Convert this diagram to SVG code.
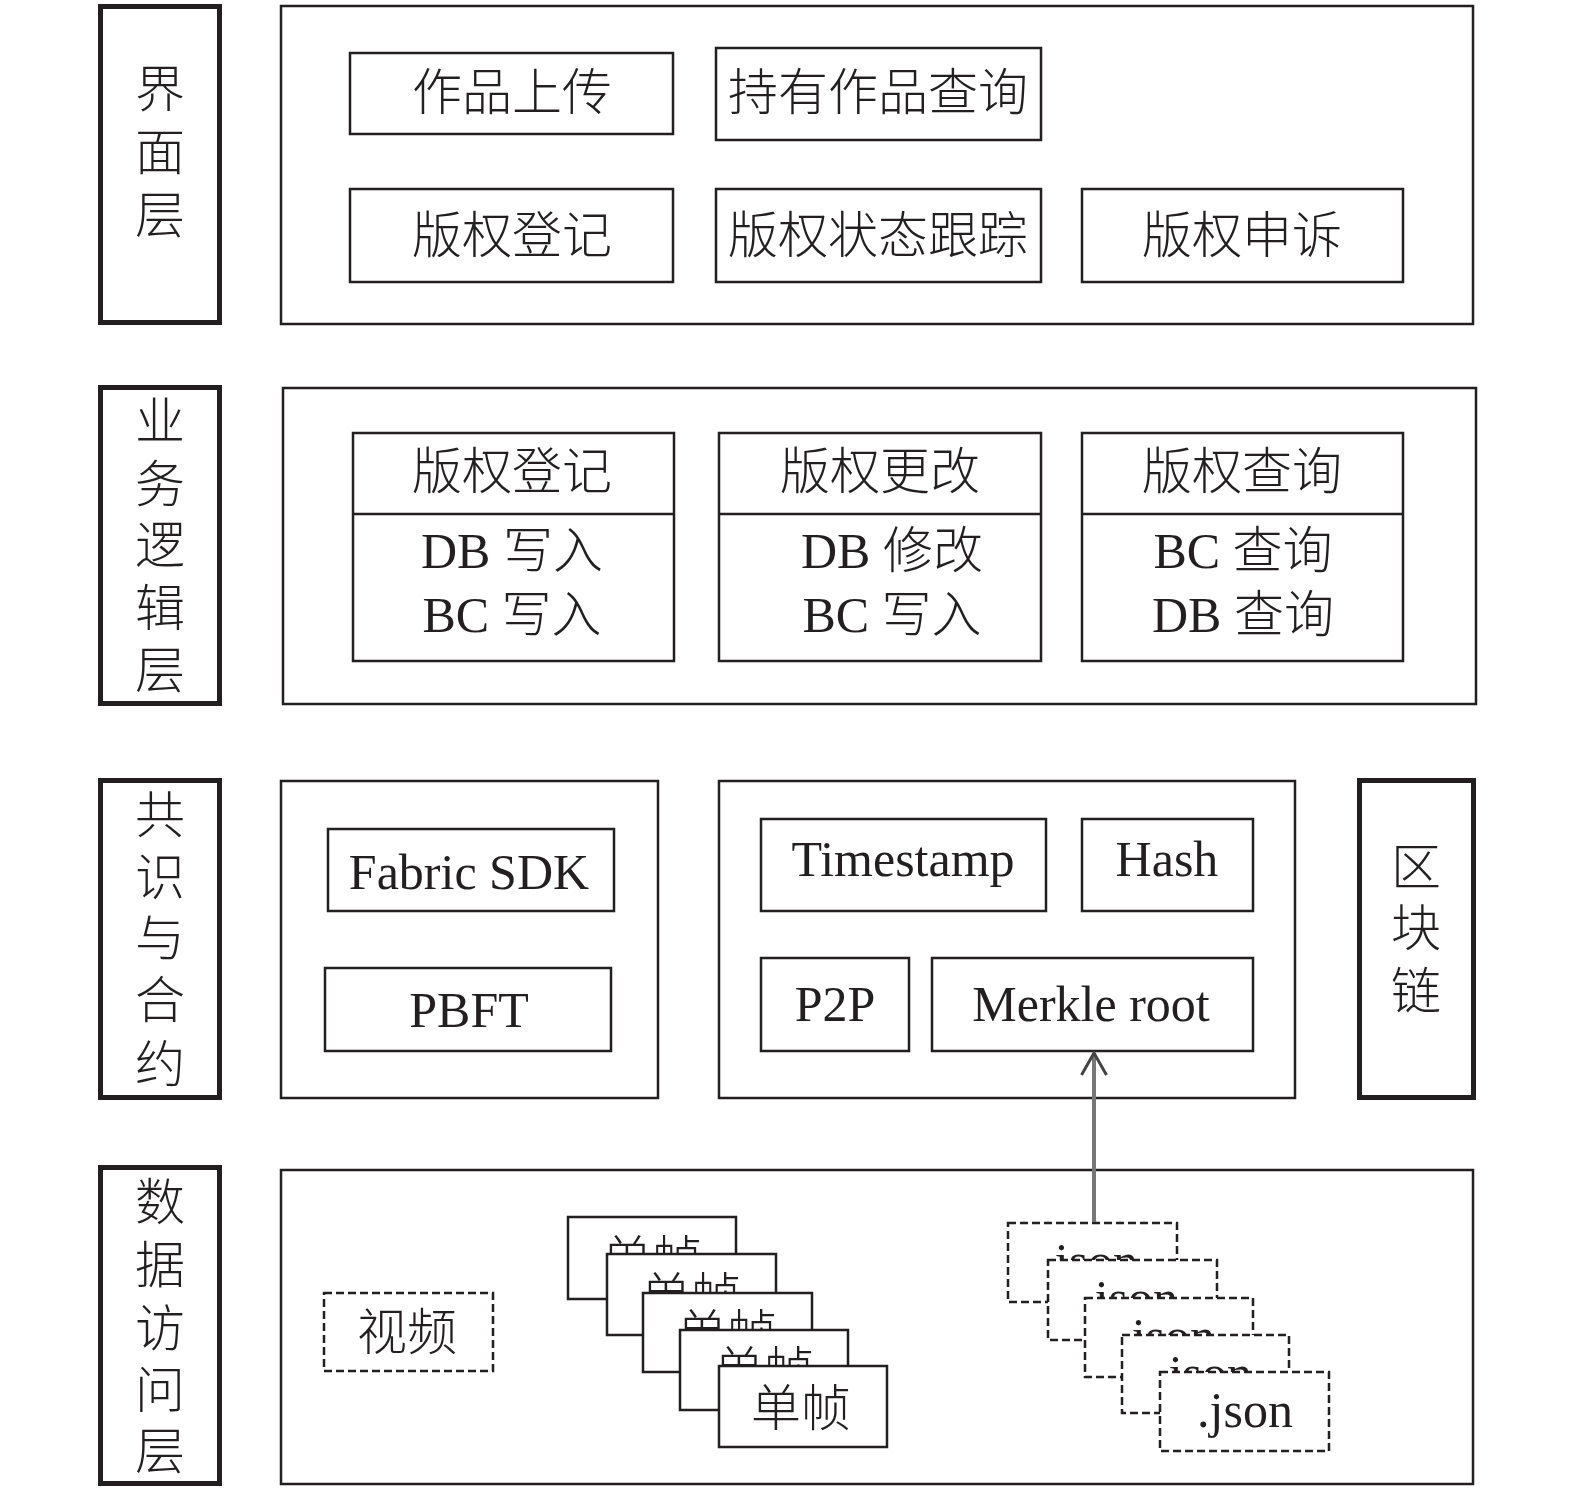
<svg xmlns="http://www.w3.org/2000/svg" width="1575" height="1494" viewBox="0 0 1575 1494">
<style>
.lbl{fill:#fff;stroke:#231f20;stroke-width:5}
.frame{fill:#fff;stroke:#231f20;stroke-width:2.5}
.box{fill:#fff;stroke:#231f20;stroke-width:2.5}
.dash{fill:#fff;stroke:#231f20;stroke-width:2.5;stroke-dasharray:8 4}
text{font-family:"Liberation Serif","Noto Sans CJK SC",serif;font-size:50px;fill:#231f20;text-anchor:middle}
.cjk{font-family:"Noto Sans CJK SC","Liberation Serif",serif;font-weight:300}
</style>
<defs>
<marker id="arr" markerWidth="28" markerHeight="30" refX="24" refY="14" orient="auto" markerUnits="userSpaceOnUse" viewBox="0 0 28 30">
<path d="M2,1.5 L24,14 L2,26.5" fill="none" stroke="#444" stroke-width="3"/>
</marker>
<clipPath id="cf1"><rect x="560" y="1210" width="190" height="44"/></clipPath>
<clipPath id="cf2"><rect x="600" y="1247" width="190" height="46"/></clipPath>
<clipPath id="cf3"><rect x="636" y="1286" width="190" height="44"/></clipPath>
<clipPath id="cf4"><rect x="673" y="1323" width="190" height="43"/></clipPath>
<clipPath id="cj1"><rect x="1000" y="1216" width="190" height="44"/></clipPath>
<clipPath id="cj2"><rect x="1040" y="1253" width="190" height="45"/></clipPath>
<clipPath id="cj3"><rect x="1078" y="1291" width="190" height="44"/></clipPath>
<clipPath id="cj4"><rect x="1115" y="1328" width="190" height="44"/></clipPath>
</defs>
<rect width="1575" height="1494" fill="#fff"/>

<!-- Layer 1 -->
<g id="label-ui"><rect class="lbl" x="100.5" y="6.5" width="119" height="316"/>
<text class="cjk" x="160" y="107">界</text><text class="cjk" x="160" y="170">面</text><text class="cjk" x="160" y="233">层</text></g>
<g id="layer-ui"><rect class="frame" x="281" y="6" width="1192" height="318"/></g>
<g id="n-upload"><rect class="box" x="350" y="53" width="323" height="81"/><text class="cjk" x="512" y="110">作品上传</text></g>
<g id="n-hold"><rect class="box" x="716" y="48" width="325" height="92"/><text class="cjk" x="878" y="110">持有作品查询</text></g>
<g id="n-reg1"><rect class="box" x="350" y="189" width="323" height="93"/><text class="cjk" x="512" y="253">版权登记</text></g>
<g id="n-track"><rect class="box" x="716" y="189" width="325" height="93"/><text class="cjk" x="878" y="253">版权状态跟踪</text></g>
<g id="n-appeal"><rect class="box" x="1082" y="189" width="321" height="93"/><text class="cjk" x="1242" y="253">版权申诉</text></g>

<!-- Layer 2 -->
<g id="label-biz"><rect class="lbl" x="100.5" y="387.5" width="119" height="316"/>
<text class="cjk" x="160" y="439">业</text><text class="cjk" x="160" y="502">务</text><text class="cjk" x="160" y="563">逻</text><text class="cjk" x="160" y="626">辑</text><text class="cjk" x="160" y="688">层</text></g>
<g id="layer-biz"><rect class="frame" x="283" y="388" width="1193" height="316"/></g>
<g id="n-reg2"><rect class="box" x="353" y="433" width="321" height="228"/><line x1="353" y1="514" x2="674" y2="514" stroke="#231f20" stroke-width="2.5"/>
<text class="cjk" x="512" y="489">版权登记</text><text x="512" y="568">DB <tspan class="cjk">写入</tspan></text><text x="512" y="632">BC <tspan class="cjk">写入</tspan></text></g>
<g id="n-mod"><rect class="box" x="719" y="433" width="322" height="228"/><line x1="719" y1="514" x2="1041" y2="514" stroke="#231f20" stroke-width="2.5"/>
<text class="cjk" x="880" y="489">版权更改</text><text x="892" y="568">DB <tspan class="cjk">修改</tspan></text><text x="892" y="632">BC <tspan class="cjk">写入</tspan></text></g>
<g id="n-query"><rect class="box" x="1082" y="433" width="321" height="228"/><line x1="1082" y1="514" x2="1403" y2="514" stroke="#231f20" stroke-width="2.5"/>
<text class="cjk" x="1242" y="489">版权查询</text><text x="1243" y="568">BC <tspan class="cjk">查询</tspan></text><text x="1243" y="632">DB <tspan class="cjk">查询</tspan></text></g>

<!-- Layer 3 -->
<g id="label-cons"><rect class="lbl" x="100.5" y="780.5" width="119" height="317"/>
<text class="cjk" x="160" y="833">共</text><text class="cjk" x="160" y="895">识</text><text class="cjk" x="160" y="956">与</text><text class="cjk" x="160" y="1018">合</text><text class="cjk" x="160" y="1082">约</text></g>
<g id="layer-cons"><rect class="frame" x="281" y="781" width="377" height="317"/></g>
<g id="n-sdk"><rect class="box" x="328" y="829" width="286" height="82"/><text x="469" y="889">Fabric SDK</text></g>
<g id="n-pbft"><rect class="box" x="325" y="968" width="286" height="83"/><text x="469" y="1027">PBFT</text></g>
<g id="layer-chain"><rect class="frame" x="719" y="781" width="576" height="317"/></g>
<g id="n-ts"><rect class="box" x="761" y="819" width="285" height="92"/><text x="903" y="876">Timestamp</text></g>
<g id="n-hash"><rect class="box" x="1082" y="819" width="171" height="92"/><text x="1167" y="876">Hash</text></g>
<g id="n-p2p"><rect class="box" x="761" y="958" width="148" height="93"/><text x="835" y="1021">P2P</text></g>
<g id="n-merkle"><rect class="box" x="932" y="958" width="321" height="93"/><text x="1091" y="1021">Merkle root</text></g>
<g id="label-chain"><rect class="lbl" x="1359.5" y="780.5" width="114" height="317"/>
<text class="cjk" x="1416" y="885">区</text><text class="cjk" x="1416" y="946">块</text><text class="cjk" x="1416" y="1009">链</text></g>

<!-- Layer 4 -->
<g id="label-data"><rect class="lbl" x="100.5" y="1167.5" width="119" height="316"/>
<text class="cjk" x="160" y="1220">数</text><text class="cjk" x="160" y="1283">据</text><text class="cjk" x="160" y="1346">访</text><text class="cjk" x="160" y="1408">问</text><text class="cjk" x="160" y="1469">层</text></g>
<g id="layer-data"><rect class="frame" x="281" y="1170" width="1192" height="314"/></g>
<g id="n-video"><rect class="dash" x="324" y="1293" width="169" height="78"/><text class="cjk" x="407" y="1350">视频</text></g>
<g id="n-frames">
<rect class="box" x="568" y="1217" width="168" height="82"/><text class="cjk" x="652" y="1277" clip-path="url(#cf1)">单帧</text>
<rect class="box" x="607" y="1254" width="169" height="81"/><text class="cjk" x="691" y="1314" clip-path="url(#cf2)">单帧</text>
<rect class="box" x="643" y="1293" width="169" height="79"/><text class="cjk" x="727" y="1351" clip-path="url(#cf3)">单帧</text>
<rect class="box" x="680" y="1330" width="168" height="80"/><text class="cjk" x="764" y="1388" clip-path="url(#cf4)">单帧</text>
<rect class="box" x="719" y="1366" width="168" height="81"/><text class="cjk" x="801" y="1426">单帧</text>
</g>
<g id="n-json">
<rect class="dash" x="1008" y="1223" width="169" height="79"/><text x="1090" y="1278" clip-path="url(#cj1)">.json</text>
<rect class="dash" x="1048" y="1260" width="169" height="80"/><text x="1130" y="1315" clip-path="url(#cj2)">.json</text>
<rect class="dash" x="1085" y="1298" width="168" height="79"/><text x="1167" y="1353" clip-path="url(#cj3)">.json</text>
<rect class="dash" x="1122" y="1335" width="167" height="78"/><text x="1204" y="1390" clip-path="url(#cj4)">.json</text>
<rect class="dash" x="1160" y="1372" width="169" height="79"/><text x="1245" y="1427">.json</text>
</g>

<!-- Connectors -->
<g id="connectors">
<line x1="1094" y1="1222" x2="1094" y2="1053" stroke="#777" stroke-width="4" marker-end="url(#arr)"/>
</g>
</svg>
